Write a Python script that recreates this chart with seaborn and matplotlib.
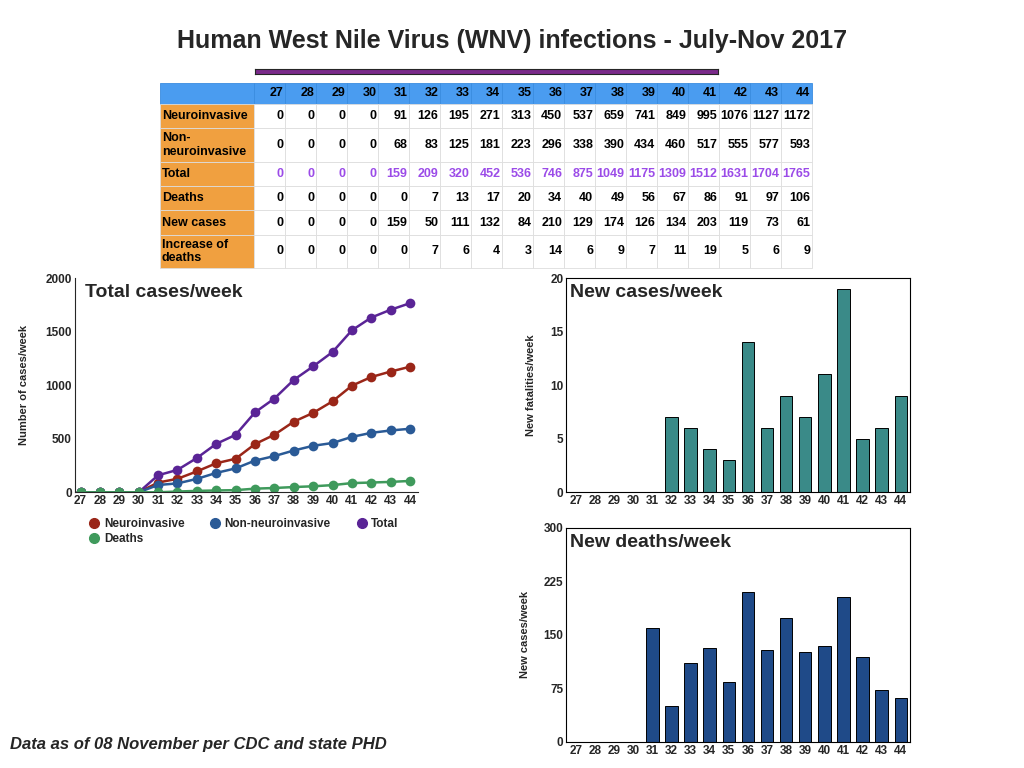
import matplotlib
matplotlib.use("Agg")
import matplotlib.pyplot as plt
from matplotlib.lines import Line2D
import seaborn as sns
import pandas as pd

weeks = list(range(27, 45))
neuro = [0, 0, 0, 0, 91, 126, 195, 271, 313, 450, 537, 659, 741, 849, 995, 1076, 1127, 1172]
non_neuro = [0, 0, 0, 0, 68, 83, 125, 181, 223, 296, 338, 390, 434, 460, 517, 555, 577, 593]
total = [0, 0, 0, 0, 159, 209, 320, 452, 536, 746, 875, 1049, 1175, 1309, 1512, 1631, 1704, 1765]
deaths = [0, 0, 0, 0, 0, 7, 13, 17, 20, 34, 40, 49, 56, 67, 86, 91, 97, 106]
new_cases = [0, 0, 0, 0, 159, 50, 111, 132, 84, 210, 129, 174, 126, 134, 203, 119, 73, 61]
new_deaths = [0, 0, 0, 0, 0, 7, 6, 4, 3, 14, 6, 9, 7, 11, 19, 5, 6, 9]

sns.set_style("white")
plt.rcParams["font.family"] = ["Liberation Sans", "DejaVu Sans"]
fig = plt.figure(figsize=(10.24, 7.68), dpi=100)

fig.text(0.5, 0.947, "Human West Nile Virus (WNV) infections - July-Nov 2017",
         ha="center", va="center", fontsize=18, fontweight="bold")
bar_ax = fig.add_axes([0.249, 0.903, 0.452, 0.007])
bar_ax.set_facecolor("#7a2a8a")
bar_ax.set_xticks([]); bar_ax.set_yticks([])

# table
tax = fig.add_axes([0.156, 0.651, 0.637, 0.241])
tax.axis("off")
rows = ["Neuroinvasive", "Non-\nneuroinvasive", "Total", "Deaths", "New cases", "Increase of\ndeaths"]
data = [neuro, non_neuro, total, deaths, new_cases, new_deaths]
cell_text = [[""] + [str(w) for w in weeks]]
for name, vals in zip(rows, data):
    cell_text.append([name] + [str(v) for v in vals])
first_w = 0.145
col_w = (1 - first_w) / 18
tbl = tax.table(cellText=cell_text, colWidths=[first_w] + [col_w] * 18,
                bbox=[0, 0, 1, 1], cellLoc="right")
tbl.auto_set_font_size(False)
heights = [0.12, 0.14, 0.19, 0.14, 0.14, 0.14, 0.19]
tot = sum(heights)
for (r, c), cell in tbl.get_celld().items():
    cell.set_height(heights[r] / tot)
    cell.set_edgecolor("#dddddd")
    cell.set_linewidth(0.6)
    cell.PAD = 0.06
    txt = cell.get_text()
    txt.set_fontsize(9)
    txt.set_fontweight("bold")
    txt.set_color("black")
    if r == 0:
        cell.set_facecolor("#4a9cf0")
        cell.set_edgecolor("#3a8ce0")
    elif c == 0:
        cell.set_facecolor("#f0a040")
        cell._loc = "left"
        cell.PAD = 0.02
        txt.set_ha("left")
    if r == 3 and c > 0:
        txt.set_color("#9b4be8")

# line chart
ax1 = fig.add_axes([0.073, 0.359, 0.335, 0.279])
names = ["Neuroinvasive", "Non-neuroinvasive", "Total", "Deaths"]
df = pd.DataFrame({"week": weeks * 4,
                   "value": neuro + non_neuro + total + deaths,
                   "series": [n for n in names for _ in weeks]})
pal = {"Neuroinvasive": "#9a2618", "Non-neuroinvasive": "#2a5a96", "Total": "#5a2496", "Deaths": "#3f9a5c"}
sns.lineplot(data=df, x="week", y="value", hue="series", palette=pal, marker="o",
             markersize=7, markeredgewidth=0, linewidth=1.8, ax=ax1, legend=False)
ax1.set_xlim(26.7, 44.4)
ax1.set_ylim(0, 2000)
ax1.set_xticks(weeks)
ax1.set_yticks([0, 500, 1000, 1500, 2000])
ax1.tick_params(labelsize=8.5, length=0, pad=2)
for t in ax1.get_xticklabels() + ax1.get_yticklabels():
    t.set_fontweight("bold")
ax1.set_xlabel("")
ax1.set_ylabel("Number of cases/week", fontsize=8, fontweight="bold", labelpad=12)
sns.despine(ax=ax1)
ax1.text(0.03, 0.97, "Total cases/week", transform=ax1.transAxes, fontsize=14,
         fontweight="bold", va="top")
order = ["Neuroinvasive", "Deaths", "Non-neuroinvasive", "Total"]
handles = [Line2D([], [], ls="none", marker="o", color=pal[n], markersize=7) for n in order]
ax1.legend(handles, order, loc="upper left", bbox_to_anchor=(0.03, -0.1), ncol=3, frameon=False,
           prop={"size": 8.5, "weight": "bold"}, handlelength=0.8, columnspacing=2.2,
           handletextpad=0.4, borderaxespad=0, labelspacing=0.2)

# bar charts
bar_specs = [
    ([0.553, 0.359, 0.336, 0.279], new_deaths, "#3a8a88", [0, 5, 10, 15, 20], "New fatalities/week", "New cases/week"),
    ([0.553, 0.034, 0.336, 0.279], new_cases, "#1f4a88", [0, 75, 150, 225, 300], "New cases/week", "New deaths/week"),
]
for pos, vals, color, yt, ylab, title in bar_specs:
    ax = fig.add_axes(pos)
    sns.barplot(x=[str(w) for w in weeks], y=vals, color=color, edgecolor="black",
                linewidth=0.7, width=0.65, saturation=1, ax=ax)
    ax.set_ylim(0, yt[-1])
    ax.set_yticks(yt)
    ax.tick_params(labelsize=8.5, length=0, pad=2)
    for t in ax.get_xticklabels() + ax.get_yticklabels():
        t.set_fontweight("bold")
    ax.set_ylabel(ylab, fontsize=8, fontweight="bold", labelpad=10)
    for s in ax.spines.values():
        s.set_color("black")
        s.set_linewidth(0.8)
    ax.text(0.01, 0.97, title, transform=ax.transAxes, fontsize=14,
            fontweight="bold", va="top")

fig.text(0.01, 0.025, "Data as of 08 November per CDC and state PHD", fontsize=12,
         fontweight="bold", fontstyle="italic")

fig.savefig("out.png", dpi=100)
